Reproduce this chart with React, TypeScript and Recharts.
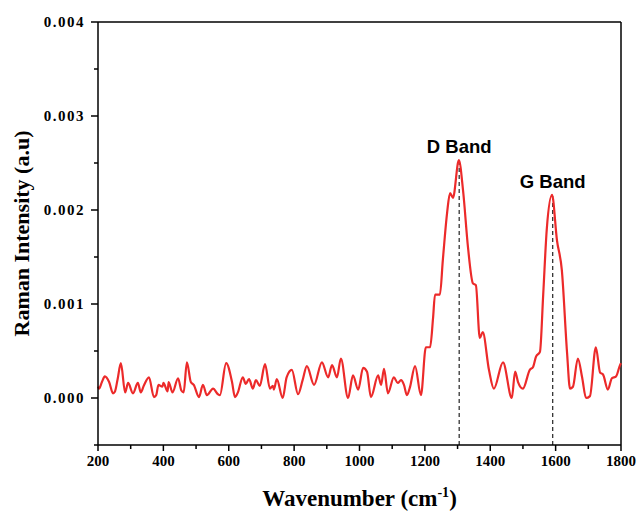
import React from "react";
import {
  LineChart,
  Line,
  XAxis,
  YAxis,
  ReferenceLine,
  ReferenceDot,
  Label,
} from "recharts";

// wavenumber (cm-1) and raman intensity (a.u)
const wavenumbers = [
  200, 203, 212, 221, 234, 246, 252, 260, 270, 283, 292, 307, 322, 331, 340,
  356, 371, 378, 385, 397, 400, 413, 416, 428, 445, 455, 462, 472, 484, 493,
  509, 521, 533, 552, 567, 573, 592, 610, 619, 628, 643, 652, 662, 674, 683,
  695, 711, 726, 735, 738, 747, 765, 777, 793, 812, 826, 839, 861, 885, 904,
  916, 931, 943, 965, 980, 996, 1011, 1023, 1035, 1057, 1066, 1075, 1087,
  1105, 1117, 1127, 1136, 1145, 1154, 1170, 1188, 1203, 1216, 1225, 1231,
  1246, 1255, 1268, 1277, 1286, 1304, 1317, 1332, 1347, 1356, 1368, 1377,
  1396, 1411, 1439, 1466, 1476, 1485, 1500, 1521, 1531, 1540, 1552, 1562,
  1573, 1589, 1604, 1619, 1635, 1644, 1653, 1668, 1681, 1693, 1705, 1723,
  1736, 1745, 1760, 1772, 1785, 1797, 1800,
];
const intensities = [
  0.00012, 0.0001, 0.00017, 0.00023, 0.00017, 0.00005, 0.00007, 0.0002,
  0.00037, 0.00006, 0.00016, 0.00005, 0.00016, 0.00006, 0.00013, 0.00022,
  0.00001, 0.00003, 0.00014, 0.00012, 0.00016, 0.00007, 0.00017, 0.00006,
  0.00021, 0.00008, 0.00006, 0.00038, 0.00017, 0.00014, 0.00001, 0.00014,
  0.00003, 0.0001, 0.00004, 0.00003, 0.00037, 0.00017, 0.00001, 0.00006,
  0.00022, 0.00015, 0.0002, 0.0001, 0.00019, 0.00013, 0.00036, 0.0001,
  0.00013, 0.00009, 0.0002, 0.0, 0.00022, 0.0003, 0.00004, 0.00019, 0.00034,
  0.00014, 0.00038, 0.00022, 0.00035, 0.00022, 0.00042, 0.0, 0.00024,
  0.00009, 0.00032, 0.00028, 0.00001, 0.00024, 0.00014, 0.00031, 0.00005,
  0.00022, 0.00016, 0.00019, 0.00014, 0.00003, 0.00011, 0.00034, 0.00003,
  0.00054, 0.00054, 0.00085, 0.0011, 0.0011, 0.00147, 0.00197, 0.00218,
  0.00213, 0.00253, 0.0022, 0.0016, 0.00122, 0.0012, 0.00064, 0.0007, 0.0003,
  0.0001, 0.00038, 0.0, 0.00028, 0.00017, 0.0001, 0.0003, 0.00033, 0.00044,
  0.00049, 0.0011, 0.0018, 0.00216, 0.00168, 0.00136, 0.00048, 0.0001,
  0.00012, 0.00042, 0.00022, 0.0, 0.00002, 0.00054, 0.00027, 0.00025,
  0.00009, 0.00021, 0.00023, 0.00035, 0.00037,
];

const xTicks = [
  200, 300, 400, 500, 600, 700, 800, 900, 1000, 1100, 1200, 1300, 1400, 1500,
  1600, 1700, 1800,
];
const yTicks = [
  -0.0005, 0, 0.0005, 0.001, 0.0015, 0.002, 0.0025, 0.003, 0.0035, 0.004,
];

const bandNames = ["D Band", "G Band"];
const bandCenters = [1305, 1591];
const bandPeaks = [0.00253, 0.00216];

const data = wavenumbers.map((w, i) => ({ w, v: intensities[i] }));

const serif = "'Liberation Serif', 'Times New Roman', serif";
const sans = "'Liberation Sans', Arial, sans-serif";

const XTick = (props: any) => {
  const { x, y, payload } = props;
  const major = payload.value % 200 === 0;
  return (
    <g>
      <line x1={x} x2={x} y1={y} y2={y + (major ? 6 : 4)} stroke="#000" strokeWidth={1.5} />
      {major && (
        <text
          x={x}
          y={y + 21}
          textAnchor="middle"
          fontFamily={serif}
          fontWeight="bold"
          fontSize={15}
          fill="#000"
        >
          {payload.value}
        </text>
      )}
    </g>
  );
};

const YTick = (props: any) => {
  const { x, y, payload } = props;
  const k = payload.value * 1000;
  const major = Math.abs(k - Math.round(k)) < 1e-6;
  return (
    <g>
      <line x1={x - (major ? 7 : 4)} x2={x} y1={y} y2={y} stroke="#000" strokeWidth={1.5} />
      {major && (
        <text
          x={x - 13}
          y={y}
          dy="0.35em"
          textAnchor="end"
          fontFamily={serif}
          fontWeight="bold"
          fontSize={15}
          letterSpacing={1.5}
          fill="#000"
        >
          {payload.value.toFixed(3)}
        </text>
      )}
    </g>
  );
};

export default function App() {
  return (
    <div style={{ width: 638, height: 515 }}>
      <style>{`body{margin:0}`}</style>
      <LineChart
        width={638}
        height={515}
        data={data}
        margin={{ top: 22, right: 17, bottom: 0, left: 0 }}
      >
        <XAxis
          dataKey="w"
          type="number"
          domain={[200, 1800]}
          ticks={xTicks}
          interval={0}
          height={70}
          tickSize={0}
          tickMargin={0}
          tick={<XTick />}
          axisLine={{ stroke: "#000", strokeWidth: 1.5 }}
        >
          <Label
            content={(p: any) => {
              const vb = p.viewBox;
              return (
                <text
                  x={vb.x + vb.width / 2}
                  y={vb.y + 61}
                  textAnchor="middle"
                  fontFamily={serif}
                  fontWeight="bold"
                  fontSize={23}
                  fill="#000"
                >
                  <tspan>Wavenumber (cm</tspan>
                  <tspan dy={-9} fontSize={14}>-1</tspan>
                  <tspan dy={9}>)</tspan>
                </text>
              );
            }}
          />
        </XAxis>
        <YAxis
          type="number"
          domain={[-0.0005, 0.004]}
          ticks={yTicks}
          interval={0}
          width={98}
          tickSize={0}
          tickMargin={0}
          tick={<YTick />}
          axisLine={{ stroke: "#000", strokeWidth: 1.5 }}
          allowDataOverflow
        >
          <Label
            content={(p: any) => {
              const vb = p.viewBox;
              const cx = vb.x + 21;
              const cy = vb.y + vb.height / 2;
              return (
                <text
                  x={cx}
                  y={cy}
                  transform={`rotate(-90, ${cx}, ${cy})`}
                  textAnchor="middle"
                  dominantBaseline="central"
                  fontFamily={serif}
                  fontWeight="bold"
                  fontSize={22}
                  fill="#000"
                >
                  Raman Intensity (a.u)
                </text>
              );
            }}
          />
        </YAxis>
        <ReferenceLine y={0.004} stroke="#000" strokeWidth={1.5} />
        <ReferenceLine x={1800} stroke="#000" strokeWidth={1.5} />
        {bandCenters.map((c, i) => (
          <ReferenceLine
            key={"l" + i}
            segment={[
              { x: c, y: -0.0005 },
              { x: c, y: bandPeaks[i] },
            ]}
            stroke="#333"
            strokeWidth={1.3}
            strokeDasharray="4 3"
          />
        ))}
        <Line
          type="monotone"
          dataKey="v"
          stroke="#ec2a2a"
          strokeWidth={2.2}
          dot={false}
          isAnimationActive={false}
        />
        {bandCenters.map((c, i) => (
          <ReferenceDot
            key={"d" + i}
            x={c}
            y={bandPeaks[i]}
            r={0}
            stroke="none"
            fill="none"
            label={{
              value: bandNames[i],
              position: "top",
              offset: 7,
              fill: "#000",
              fontFamily: sans,
              fontWeight: "bold",
              fontSize: 18.5,
            }}
          />
        ))}
      </LineChart>
    </div>
  );
}
